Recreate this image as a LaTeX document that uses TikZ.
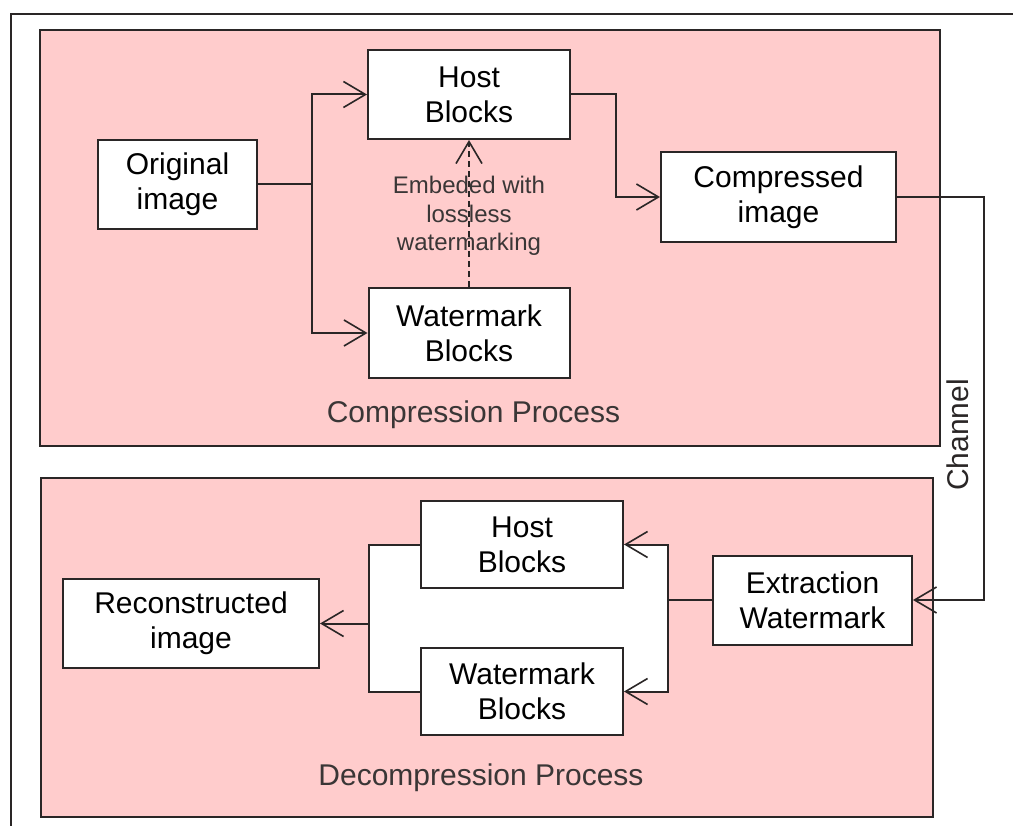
\documentclass[tikz,border=0pt]{standalone}
\usepackage{fontspec}
\setmainfont{Liberation Sans}
\usetikzlibrary{arrows.meta}
\definecolor{panelpink}{HTML}{FFCCCC}
\definecolor{inkdark}{HTML}{2A2626}
\definecolor{labelgray}{HTML}{3A3636}
\tikzset{
  blockbox/.style={draw=inkdark, line width=2pt, fill=white, align=center,
    inner sep=0pt, font=\fontsize{30}{35}\selectfont},
  panel/.style={draw=inkdark, line width=2pt, fill=panelpink},
  link/.style={draw=inkdark, line width=2pt},
  arr/.style={link, -{Straight Barb[length=22pt, width=26pt, line width=1.6pt]}},
  panellabel/.style={font=\fontsize{30}{36}\selectfont, text=labelgray, inner sep=0pt},
}
\begin{document}
\begin{tikzpicture}[x=1pt, y=-1pt]
  \useasboundingbox (0,0) rectangle (1013,826);

  % outer frame (runs off the right and bottom edges)
  \draw[inkdark, line width=2pt] (11,826) -- (11,14) -- (1013,14);

  % the two process panels
  \draw[panel] (40,30) rectangle (940,446);
  \draw[panel] (41,478) rectangle (933,817);

  % ---------- compression ----------
  \node[blockbox, minimum width=159pt, minimum height=89pt] (orig) at (177.5,184.5) {Original\\image};
  \node[blockbox, minimum width=202pt, minimum height=89pt] (hostA) at (469,94.5) {Host\\Blocks};
  \node[blockbox, minimum width=201pt, minimum height=90pt] (wmA) at (469,333) {Watermark\\Blocks};
  \node[blockbox, minimum width=235pt, minimum height=90pt] (comp) at (778.5,197) {Compressed\\image};

  \coordinate (split) at (312,184.5);
  \draw[link] (orig.east) -- (split);
  \draw[arr] (split) |- (hostA.west);
  \draw[arr] (split) |- (wmA.west);
  \draw[arr] (hostA.east) -- ++(45,0) |- (comp.west);

  \draw[arr, dashed, line width=1.4pt, dash pattern=on 6pt off 4pt] (wmA.north) -- (hostA.south);
  \node[align=center, inner sep=0pt, text=labelgray, font=\fontsize{24}{28.5}\selectfont] (embedlbl) at (469,216)
    {Embeded with\\lossless\\watermarking};

  \node[panellabel] (complbl) at (473.5,415) {Compression Process};

  % ---------- channel ----------
  \coordinate (chan) at (984,400);
  \node[panellabel, text=inkdark, rotate=90] (chanlbl) at (958,435) {Channel};

  % ---------- decompression ----------
  \node[blockbox, minimum width=199pt, minimum height=89pt] (ext) at (812.5,600) {Extraction\\Watermark};
  \node[blockbox, minimum width=256pt, minimum height=89pt] (recon) at (191,623.5) {Reconstructed\\image};

  \coordinate (rj) at (668,600);
  \coordinate (lj) at (369,623.5);
  \coordinate (topj) at (500,544.5);
  \coordinate (botj) at (500,691.5);

  % white area enclosed by the split/merge connectors
  \fill[white] (lj |- topj) rectangle (rj |- botj);

  \node[blockbox, minimum width=202pt, minimum height=87pt] (hostB) at (522,544.5) {Host\\Blocks};
  \node[blockbox, minimum width=202pt, minimum height=87pt] (wmB) at (522,691.5) {Watermark\\Blocks};

  \draw[arr] (comp.east) -| (chan) |- (ext.east);
  \draw[link] (ext.west) -- (rj);
  \draw[arr] (rj) |- (hostB.east);
  \draw[arr] (rj) |- (wmB.east);
  \draw[link] (hostB.west) -| (lj);
  \draw[link] (wmB.west) -| (lj);
  \draw[arr] (lj) -- (recon.east);

  \node[panellabel] (decomplbl) at (481,778) {Decompression Process};
\end{tikzpicture}
\end{document}
